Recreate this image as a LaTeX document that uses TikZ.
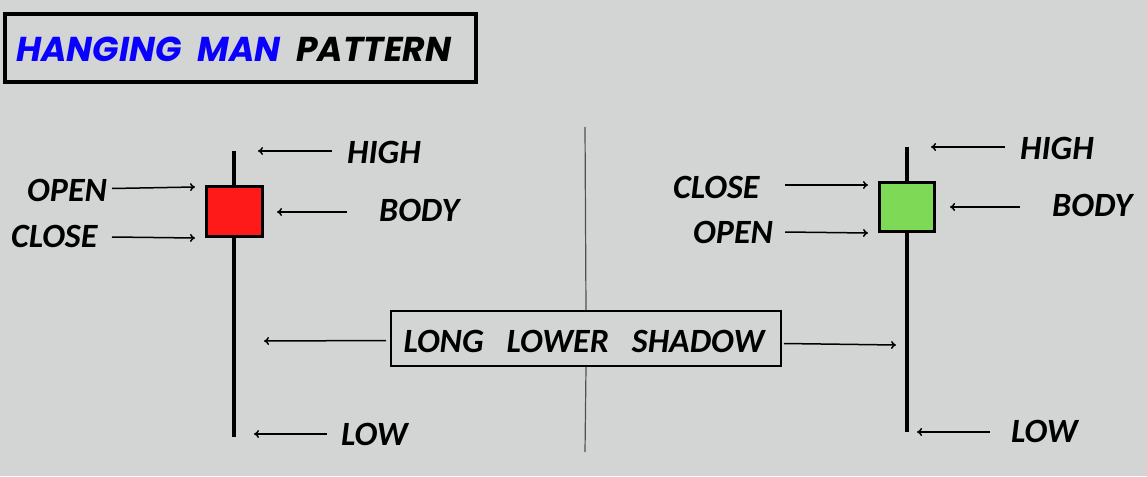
\documentclass[tikz,border=0pt]{standalone}
\usepackage{fontspec}
\setmainfont{Carlito}
\newfontfamily\titlefont{Poppins}
\usetikzlibrary{arrows.meta}
\definecolor{bg}{HTML}{D2D5D4}
\definecolor{candlered}{HTML}{FF1A1A}
\definecolor{candlegreen}{HTML}{7ED957}
\definecolor{titleblue}{HTML}{0A00FF}
\definecolor{divider}{HTML}{505050}
\tikzset{
  lbl/.style={inner sep=0pt, font=\fontsize{34}{36}\selectfont\bfseries\itshape},
  ptr/.style={line width=1.5pt, -{To[length=5pt,width=8pt]}},
  wick/.style={line width=3.4pt},
  body/.style={draw=black, line width=3.4pt, inner sep=0pt},
}
\begin{document}
\begin{tikzpicture}[x=1pt,y=-1pt]
\useasboundingbox[fill=bg] (0,0) rectangle (1147,476);
% title
\node[draw, line width=4pt, minimum width=471pt, minimum height=68pt, inner sep=0pt, anchor=north west] (titlebox) at (2.5,12) {};
\node[anchor=west, inner sep=0pt, font=\titlefont\bfseries\itshape\fontsize{34.5}{36}\selectfont] (title) at (16,49)
  {\textcolor{titleblue}{HANGING\ \ MAN}\ \ PATTERN};
% divider
\coordinate (dtop) at (585,127);
\coordinate (dbot) at (585,452);
% long lower shadow box
\node[draw, line width=1.6pt, minimum width=390pt, minimum height=55pt, inner sep=0pt, fill=bg] (shadow) at (586,338.5) {};
\draw[divider, line width=1.2pt] (dtop) -- (shadow.north);
\draw[divider, line width=1.2pt] (shadow.south) -- (dbot);
\node[lbl] (shadowtxt) at (584,341) {LONG\hspace{23pt}LOWER\hspace{23pt}SHADOW};

% ---------- left candle ----------
\coordinate (lwtop) at (234,151);
\coordinate (lwbot) at (234,437);
\draw[wick] (lwtop) -- (lwbot);
\node[body, fill=candlered, minimum width=56pt, minimum height=50pt] (lbody) at (234.5,211.5) {};
\node[lbl, anchor=west] (lhigh) at (347,152) {HIGH};
\node[lbl, anchor=west] (lopen) at (27,190) {OPEN};
\node[lbl, anchor=west] (lclose) at (11,236) {CLOSE};
\node[lbl, anchor=west] (lbodyt) at (379,210) {BODY};
\node[lbl, anchor=west] (llow) at (341,434) {LOW};
\coordinate (lhighs) at (332,151);
\coordinate (lhighe) at (258,151);
\coordinate (lopens) at (112,188.5);
\coordinate (lopene) at (195,187);
\coordinate (lcloses) at (112,237);
\coordinate (lclosee) at (195,238);
\coordinate (lbodys) at (347,212);
\coordinate (lbodye) at (277,212);
\coordinate (llows) at (327,434);
\coordinate (llowe) at (254,434);
\coordinate (lshade) at (264,341);
\draw[ptr] (lhighs) -- (lhighe);
\draw[ptr] (lopens) -- (lopene);
\draw[ptr] (lcloses) -- (lclosee);
\draw[ptr] (lbodys) -- (lbodye);
\draw[ptr] (llows) -- (llowe);
\draw[ptr] (shadow.west) ++(-4,2) coordinate (shl) -- (lshade);

% ---------- right candle ----------
\coordinate (rwtop) at (907,147);
\coordinate (rwbot) at (907,432);
\draw[wick] (rwtop) -- (rwbot);
\node[body, fill=candlegreen, minimum width=55pt, minimum height=49pt] (rbody) at (907,207) {};
\node[lbl, anchor=west] (rhigh) at (1020,148) {HIGH};
\node[lbl, anchor=west] (rclose) at (673,187) {CLOSE};
\node[lbl, anchor=west] (ropen) at (693,232) {OPEN};
\node[lbl, anchor=west] (rbodyt) at (1052,205) {BODY};
\node[lbl, anchor=west] (rlow) at (1011,431) {LOW};
\coordinate (rhighs) at (1005,147);
\coordinate (rhighe) at (931,147);
\coordinate (rcloses) at (785,185);
\coordinate (rclosee) at (868,185);
\coordinate (ropens) at (785,232);
\coordinate (ropene) at (868,233);
\coordinate (rbodys) at (1020,207);
\coordinate (rbodye) at (950,207);
\coordinate (rlows) at (990,432);
\coordinate (rlowe) at (917,432);
\coordinate (rshade) at (896,345);
\draw[ptr] (rhighs) -- (rhighe);
\draw[ptr] (rcloses) -- (rclosee);
\draw[ptr] (ropens) -- (ropene);
\draw[ptr] (rbodys) -- (rbodye);
\draw[ptr] (rlows) -- (rlowe);
\draw[ptr] (shadow.east) ++(2,5) coordinate (shr) -- (rshade);
\end{tikzpicture}
\end{document}
